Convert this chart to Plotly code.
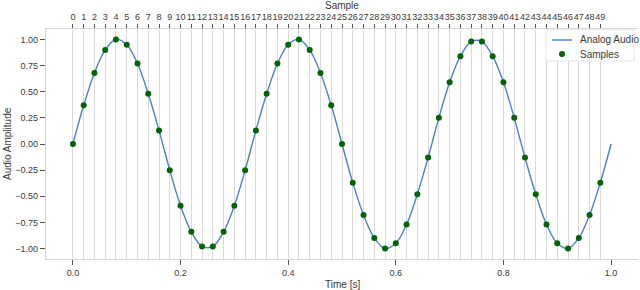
import plotly.graph_objects as go

# Sample indices and their times (seconds)
sample_idx = list(range(50))
sample_time = [i / 50 for i in sample_idx]
sample_vals = [0.00, 0.37, 0.68, 0.90, 1.00, 0.95, 0.77, 0.48, 0.13, -0.25,
               -0.59, -0.84, -0.98, -0.98, -0.84, -0.59, -0.25, 0.13, 0.48, 0.77,
               0.95, 1.00, 0.90, 0.68, 0.37, 0.00, -0.37, -0.68, -0.90, -1.00,
               -0.95, -0.77, -0.48, -0.13, 0.25, 0.59, 0.84, 0.98, 0.98, 0.84,
               0.59, 0.25, -0.13, -0.48, -0.77, -0.95, -1.00, -0.90, -0.68, -0.37]
# Analog curve: the samples plus the end point at t = 1.0
analog_time = sample_time + [1.0]
analog_vals = sample_vals + [0.00]

time_ticks = [0.0, 0.2, 0.4, 0.6, 0.8, 1.0]
time_ticktext = ["0.0", "0.2", "0.4", "0.6", "0.8", "1.0"]
amp_ticks = [-1.0, -0.75, -0.5, -0.25, 0.0, 0.25, 0.5, 0.75, 1.0]
amp_ticktext = ["\u22121.00", "\u22120.75", "\u22120.50", "\u22120.25", "0.00", "0.25", "0.50", "0.75", "1.00"]

FONT = "Liberation Sans, Arial, sans-serif"
TXT = "#3a3a3a"
LINE_C = "#4a80d6"
MARK_C = "#006400"

W, H = 640, 290
ML, MR, MT, MB = 46, 2, 29, 31
PW, PH = W - ML - MR, H - MT - MB


def px(x):
    return (x - ML) / PW


def py(y):
    return (H - MB - y) / PH


fig = go.Figure()
fig.add_trace(go.Scatter(x=analog_time, y=analog_vals, mode="lines", name="Analog Audio",
                         line=dict(color=LINE_C, width=1.4, shape="spline", smoothing=1.0)))
fig.add_trace(go.Scatter(x=sample_time, y=sample_vals, mode="markers", name="Samples",
                         marker=dict(color=MARK_C, size=6)))
# invisible trace to activate top axis
fig.add_trace(go.Scatter(x=sample_time, y=sample_vals, xaxis="x2", mode="markers",
                         marker=dict(opacity=0), showlegend=False, hoverinfo="skip"))

axis_common = dict(zeroline=False, showline=True, linecolor="#d6d6d6", linewidth=1.2,
                   ticks="outside", tickcolor="#555555", tickwidth=1,
                   automargin=False, tickfont=dict(size=9, color=TXT))

fig.update_layout(
    width=W, height=H,
    margin=dict(l=ML, r=MR, t=MT, b=MB),
    paper_bgcolor="white", plot_bgcolor="white",
    font=dict(family=FONT, size=9, color=TXT),
    showlegend=False,
    xaxis=dict(range=[-0.05, 1.05], tickvals=time_ticks, ticktext=time_ticktext,
               showgrid=False, ticklen=5, **axis_common),
    xaxis2=dict(range=[-0.05, 1.05], overlaying="x", side="top",
                tickvals=sample_time, ticktext=[str(i) for i in sample_idx],
                showgrid=True, gridcolor="#dadada", gridwidth=1.3, tickangle=0,
                ticklen=4, **axis_common),
    yaxis=dict(range=[-1.1, 1.1], tickvals=amp_ticks, ticktext=amp_ticktext,
               showgrid=False, ticklen=5, **axis_common),
)

# axis titles
fig.add_annotation(text="Time [s]", xref="paper", yref="paper", x=px(342), y=py(284),
                   showarrow=False, font=dict(size=10, color=TXT), xanchor="center", yanchor="middle")
fig.add_annotation(text="Sample", xref="paper", yref="paper", x=px(342), y=py(5.5),
                   showarrow=False, font=dict(size=10, color=TXT), xanchor="center", yanchor="middle")
fig.add_annotation(text="Audio Amplitude", xref="paper", yref="paper", x=px(7), y=py(144),
                   showarrow=False, textangle=-90, font=dict(size=10, color=TXT),
                   xanchor="center", yanchor="middle")

# legend box (drawn manually to match the compact reference legend)
fig.add_shape(type="rect", xref="paper", yref="paper", x0=px(546), x1=px(634), y0=py(30), y1=py(61),
              line=dict(color="#e6e6e6", width=1), fillcolor="rgba(255,255,255,0.85)", layer="above")
fig.add_shape(type="line", xref="paper", yref="paper", x0=px(552), x1=px(572), y0=py(40), y1=py(40),
              line=dict(color=LINE_C, width=1.4), layer="above")
fig.add_shape(type="circle", xref="paper", yref="paper", x0=px(559), x1=px(565), y0=py(51), y1=py(57),
              line=dict(color=MARK_C, width=0), fillcolor=MARK_C, layer="above")
fig.add_annotation(text="Analog Audio", xref="paper", yref="paper", x=px(578), y=py(40),
                   showarrow=False, font=dict(size=10, color=TXT), xanchor="left", yanchor="middle")
fig.add_annotation(text="Samples", xref="paper", yref="paper", x=px(578), y=py(54),
                   showarrow=False, font=dict(size=10, color=TXT), xanchor="left", yanchor="middle")

fig.write_html("out.html", config={"displayModeBar": False},
               post_script="document.body.style.margin='0';")
